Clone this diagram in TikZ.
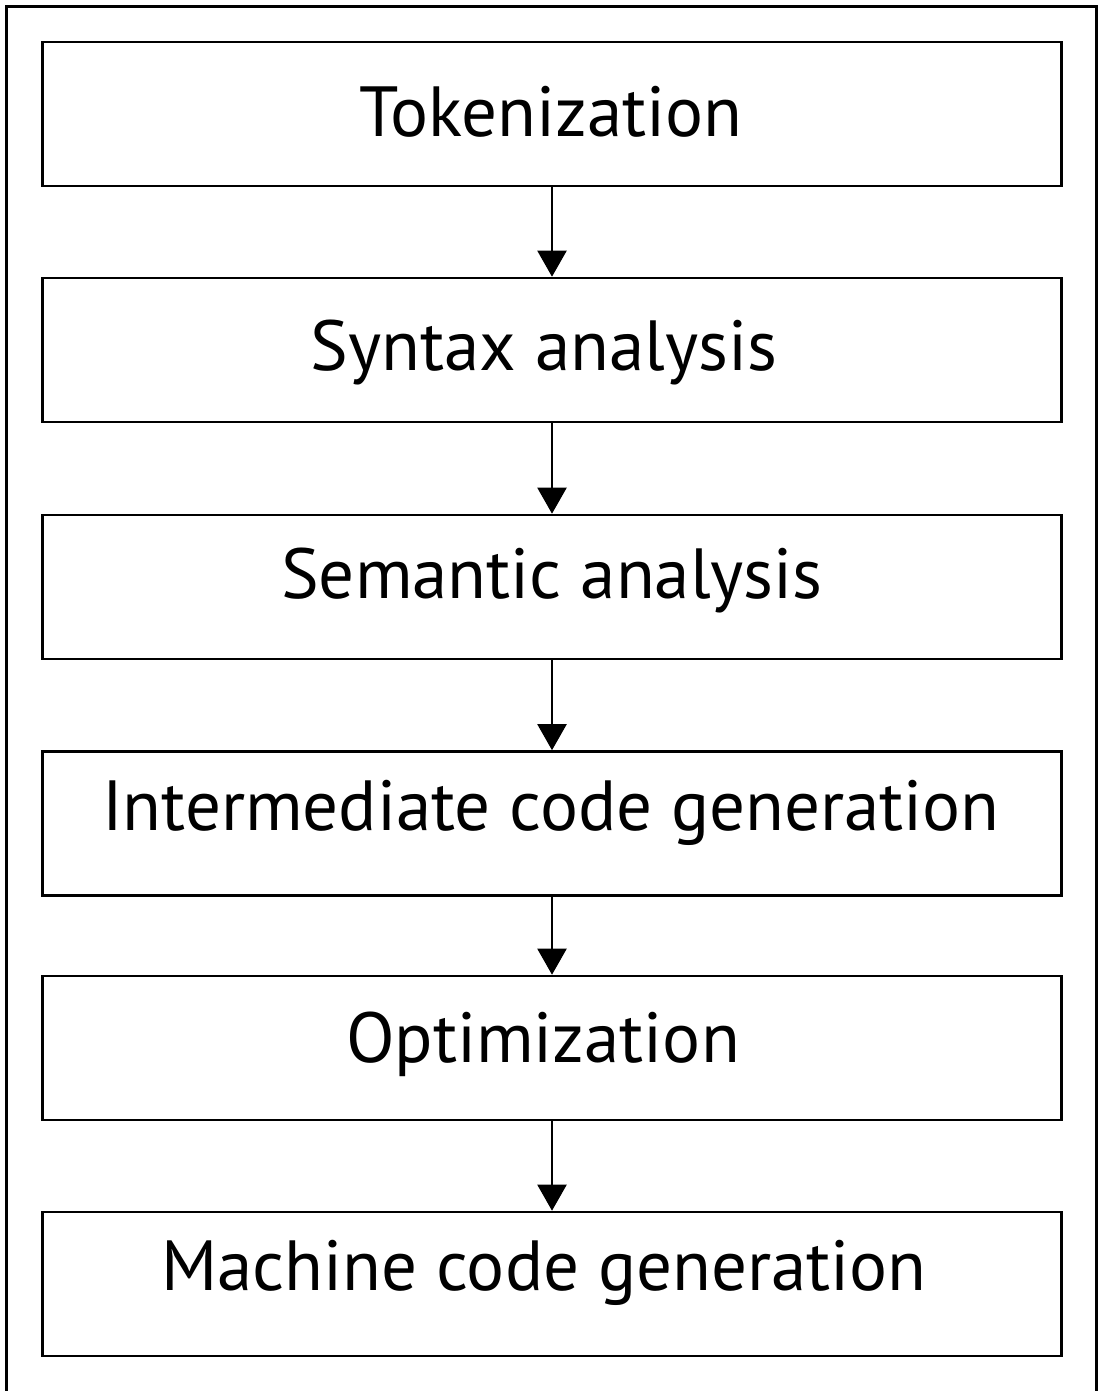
\documentclass[tikz,border=0pt]{standalone}
\usepackage{fontspec}
\setmainfont{PT Sans}
\usetikzlibrary{arrows.meta}
\begin{document}
\begin{tikzpicture}[x=1pt,y=-1pt,
  stagebox/.style={draw=black, line width=2.6pt, minimum width=1019pt, minimum height=144pt, inner sep=0pt},
  stagetext/.style={anchor=base, font=\fontsize{71}{80}\selectfont, inner sep=0pt},
  flow/.style={line width=2.2pt, -{Triangle[width=29pt,length=26pt]}}
]
\useasboundingbox (0,0) rectangle (1098,1391);
% open frame: left, top and right sides
\draw[line width=2.6pt] (6.5,1391) -- (6.5,6.5) -- (1096.5,6.5) -- (1096.5,1391);

\node[stagebox] (s1) at (552,114) {};
\node[stagebox] (s2) at (552,350) {};
\node[stagebox] (s3) at (552,587) {};
\node[stagebox] (s4) at (552,823.5) {};
\node[stagebox] (s5) at (552,1048) {};
\node[stagebox] (s6) at (552,1284) {};

\node[stagetext] (l1) at (551,137) {Tokenization};
\node[stagetext] (l2) at (544,370) {Syntax analysis};
\node[stagetext] (l3) at (552,598) {Semantic analysis};
\node[stagetext] (l4) at (551,830) {Intermediate code generation};
\node[stagetext] (l5) at (543,1062) {Optimization};
\node[stagetext] (l6) at (544,1290) {Machine code generation};

\draw[flow] (s1.south) -- (s2.north);
\draw[flow] (s2.south) -- (s3.north);
\draw[flow] (s3.south) -- (s4.north);
\draw[flow] (s4.south) -- (s5.north);
\draw[flow] (s5.south) -- (s6.north);
\end{tikzpicture}
\end{document}
